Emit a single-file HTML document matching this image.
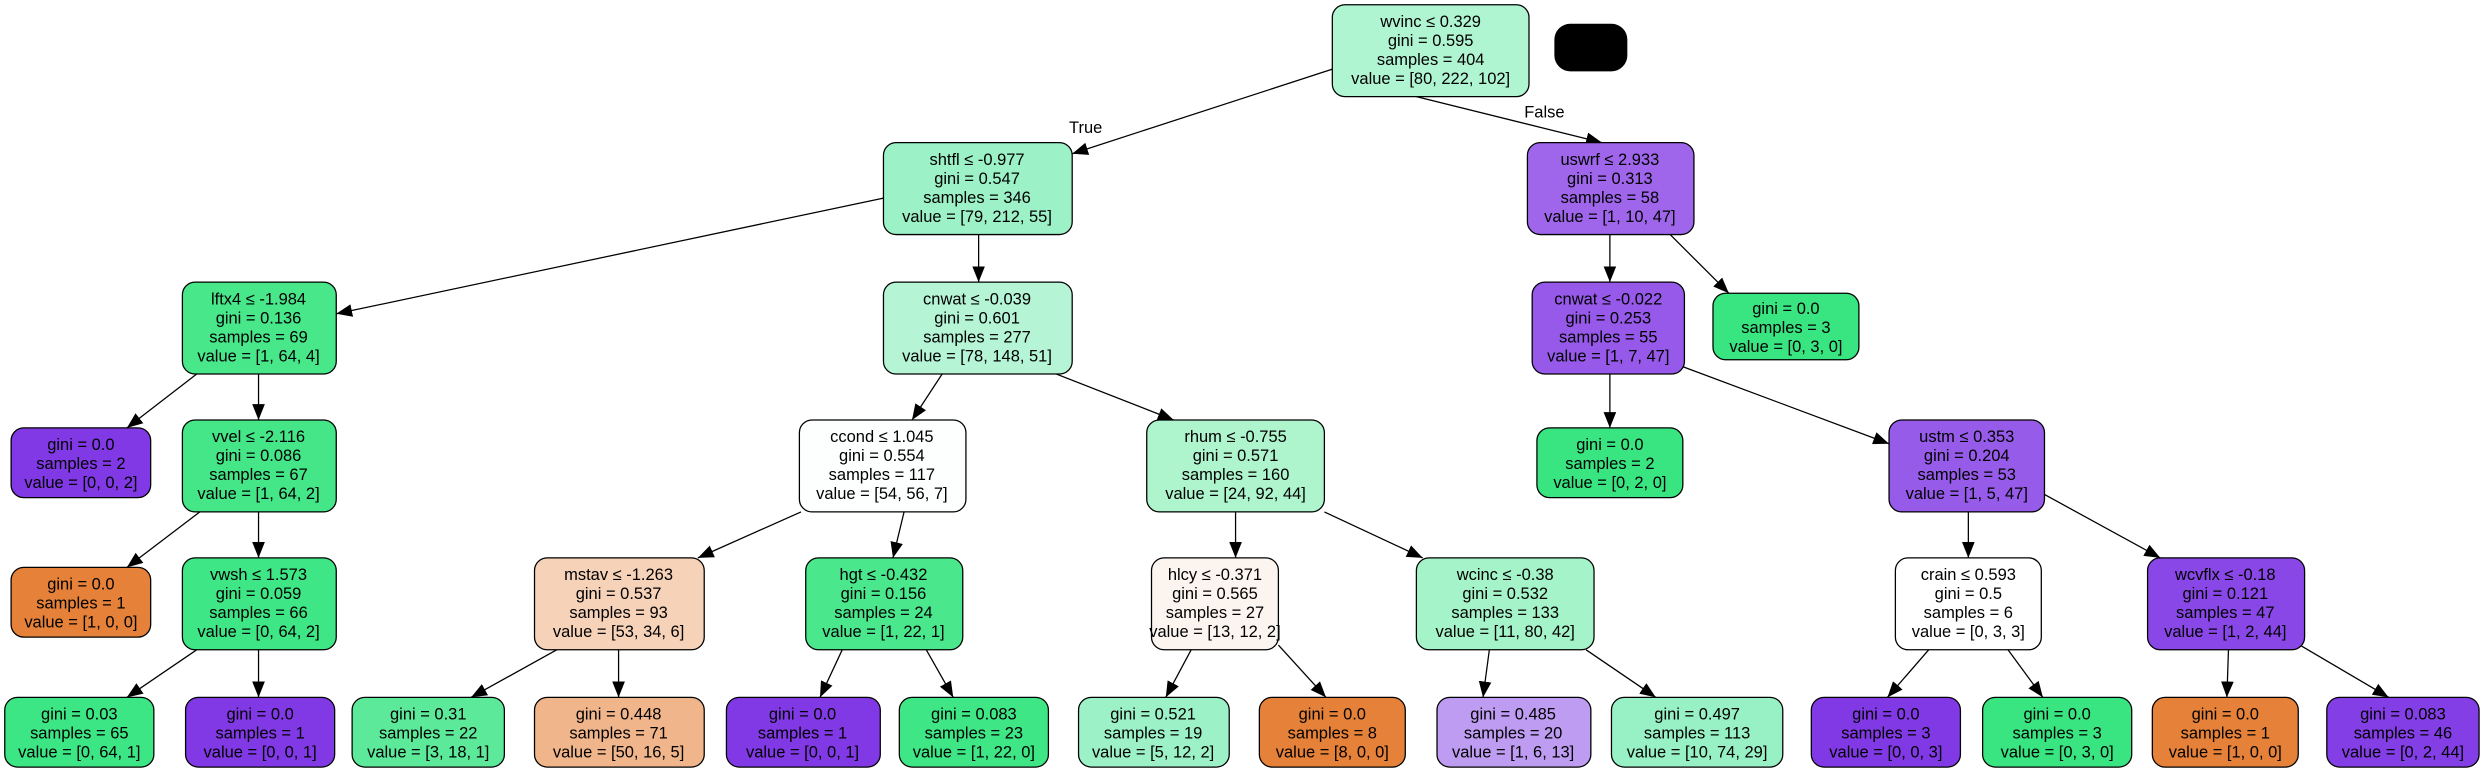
<!DOCTYPE html>
<html><head><meta charset="utf-8"><style>
html,body{margin:0;padding:0;background:#fff;}
svg{display:block;}
text{font-family:"Liberation Sans",Arial,sans-serif;font-size:10.4px;fill:#000;}
</style></head><body>
<svg width="2487" height="775" viewBox="0 0 1568 489" preserveAspectRatio="none" xmlns="http://www.w3.org/2000/svg">
<defs><marker id="a" markerUnits="userSpaceOnUse" markerWidth="11" markerHeight="8" refX="10" refY="4" orient="auto"><path d="M0,0 L10,4 L0,8 Z" fill="#000"/></marker></defs>
<g stroke="#000" stroke-width="0.8" marker-end="url(#a)">
<line x1="842" y1="43" x2="676" y2="97"/>
<line x1="893" y1="61" x2="1010" y2="90"/>
<line x1="557" y1="125" x2="212" y2="198"/>
<line x1="617" y1="148" x2="617" y2="178"/>
<line x1="1015" y1="148" x2="1015" y2="178"/>
<line x1="1053" y1="148" x2="1090" y2="185"/>
<line x1="124" y1="236" x2="80" y2="270"/>
<line x1="163" y1="236" x2="163" y2="265"/>
<line x1="594" y1="236" x2="575" y2="265"/>
<line x1="666" y1="236" x2="740" y2="265"/>
<line x1="1015" y1="236" x2="1015" y2="270"/>
<line x1="1060" y1="231" x2="1191" y2="280"/>
<line x1="126" y1="323" x2="80" y2="358"/>
<line x1="163" y1="323" x2="163" y2="352"/>
<line x1="505" y1="323" x2="440" y2="352"/>
<line x1="570" y1="323" x2="563" y2="352"/>
<line x1="779" y1="323" x2="779" y2="352"/>
<line x1="835" y1="323" x2="897" y2="352"/>
<line x1="1241" y1="323" x2="1241" y2="352"/>
<line x1="1289" y1="312" x2="1362" y2="352"/>
<line x1="124" y1="410" x2="80" y2="440"/>
<line x1="163" y1="410" x2="163" y2="440"/>
<line x1="351" y1="410" x2="297" y2="440"/>
<line x1="390" y1="410" x2="390" y2="440"/>
<line x1="531" y1="410" x2="517" y2="440"/>
<line x1="584" y1="410" x2="601" y2="440"/>
<line x1="751" y1="410" x2="735" y2="440"/>
<line x1="806" y1="407" x2="836" y2="440"/>
<line x1="939" y1="410" x2="935" y2="440"/>
<line x1="1000" y1="410" x2="1044" y2="440"/>
<line x1="1216" y1="410" x2="1190" y2="440"/>
<line x1="1266" y1="410" x2="1288" y2="440"/>
<line x1="1405" y1="410" x2="1404" y2="440"/>
<line x1="1450" y1="407" x2="1506" y2="440"/>
</g>
<text x="674" y="84">True</text>
<text x="961" y="74">False</text>
<rect x="980" y="15" width="46" height="30" rx="10" fill="#000"/>
<g stroke="#000" stroke-width="0.8">
<rect x="840" y="3" width="124" height="58" rx="8" fill="#b0f5d2"/>
<rect x="557" y="90" width="119" height="58" rx="8" fill="#9cf2c6"/>
<rect x="963" y="90" width="105" height="58" rx="8" fill="#9f66eb"/>
<rect x="115" y="178" width="97" height="58" rx="8" fill="#47e78a"/>
<rect x="557" y="178" width="119" height="58" rx="8" fill="#b5f5d6"/>
<rect x="966" y="178" width="96" height="58" rx="8" fill="#9659ea"/>
<rect x="1080" y="185" width="92" height="42" rx="8" fill="#39e581"/>
<rect x="7" y="270" width="88" height="44" rx="8" fill="#8139e5"/>
<rect x="115" y="265" width="97" height="58" rx="8" fill="#44e688"/>
<rect x="504" y="265" width="105" height="58" rx="8" fill="#fdfffe"/>
<rect x="723" y="265" width="112" height="58" rx="8" fill="#aef4cd"/>
<rect x="969" y="270" width="92" height="44" rx="8" fill="#39e581"/>
<rect x="1191" y="265" width="98" height="58" rx="8" fill="#975bea"/>
<rect x="7" y="358" width="88" height="44" rx="8" fill="#e58139"/>
<rect x="115" y="352" width="97" height="58" rx="8" fill="#3fe685"/>
<rect x="337" y="352" width="107" height="58" rx="8" fill="#f6d2b9"/>
<rect x="508" y="352" width="99" height="58" rx="8" fill="#4ae78c"/>
<rect x="726" y="352" width="80" height="58" rx="8" fill="#fcf5ef"/>
<rect x="893" y="352" width="112" height="58" rx="8" fill="#a5f3c8"/>
<rect x="1195" y="352" width="92" height="58" rx="8" fill="#ffffff"/>
<rect x="1354" y="352" width="99" height="58" rx="8" fill="#8a47e7"/>
<rect x="3" y="440" width="94" height="44" rx="8" fill="#3de684"/>
<rect x="117" y="440" width="94" height="44" rx="8" fill="#8139e5"/>
<rect x="222" y="440" width="96" height="44" rx="8" fill="#5de99a"/>
<rect x="337" y="440" width="107" height="44" rx="8" fill="#f0b58b"/>
<rect x="458" y="440" width="97" height="44" rx="8" fill="#8139e5"/>
<rect x="567" y="440" width="94" height="44" rx="8" fill="#3fe685"/>
<rect x="680" y="440" width="95" height="44" rx="8" fill="#9cf2c6"/>
<rect x="794" y="440" width="92" height="44" rx="8" fill="#e58139"/>
<rect x="906" y="440" width="97" height="44" rx="8" fill="#be9cf2"/>
<rect x="1016" y="440" width="108" height="44" rx="8" fill="#97f1c4"/>
<rect x="1142" y="440" width="94" height="44" rx="8" fill="#8139e5"/>
<rect x="1250" y="440" width="94" height="44" rx="8" fill="#39e581"/>
<rect x="1357" y="440" width="92" height="44" rx="8" fill="#e58139"/>
<rect x="1467" y="440" width="96" height="44" rx="8" fill="#843ee6"/>
</g>
<g text-anchor="middle">
<text x="902" y="17">wvinc ≤ 0.329</text><text x="902" y="29">gini = 0.595</text><text x="902" y="41">samples = 404</text><text x="902" y="53">value = [80, 222, 102]</text>
<text x="616" y="104">shtfl ≤ -0.977</text><text x="616" y="116">gini = 0.547</text><text x="616" y="128">samples = 346</text><text x="616" y="140">value = [79, 212, 55]</text>
<text x="1015" y="104">uswrf ≤ 2.933</text><text x="1015" y="116">gini = 0.313</text><text x="1015" y="128">samples = 58</text><text x="1015" y="140">value = [1, 10, 47]</text>
<text x="163" y="192">lftx4 ≤ -1.984</text><text x="163" y="204">gini = 0.136</text><text x="163" y="216">samples = 69</text><text x="163" y="228">value = [1, 64, 4]</text>
<text x="616" y="192">cnwat ≤ -0.039</text><text x="616" y="204">gini = 0.601</text><text x="616" y="216">samples = 277</text><text x="616" y="228">value = [78, 148, 51]</text>
<text x="1014" y="192">cnwat ≤ -0.022</text><text x="1014" y="204">gini = 0.253</text><text x="1014" y="216">samples = 55</text><text x="1014" y="228">value = [1, 7, 47]</text>
<text x="1126" y="198">gini = 0.0</text><text x="1126" y="210">samples = 3</text><text x="1126" y="222">value = [0, 3, 0]</text>
<text x="51" y="284">gini = 0.0</text><text x="51" y="296">samples = 2</text><text x="51" y="308">value = [0, 0, 2]</text>
<text x="163" y="279">vvel ≤ -2.116</text><text x="163" y="291">gini = 0.086</text><text x="163" y="303">samples = 67</text><text x="163" y="315">value = [1, 64, 2]</text>
<text x="556" y="279">ccond ≤ 1.045</text><text x="556" y="291">gini = 0.554</text><text x="556" y="303">samples = 117</text><text x="556" y="315">value = [54, 56, 7]</text>
<text x="779" y="279">rhum ≤ -0.755</text><text x="779" y="291">gini = 0.571</text><text x="779" y="303">samples = 160</text><text x="779" y="315">value = [24, 92, 44]</text>
<text x="1015" y="284">gini = 0.0</text><text x="1015" y="296">samples = 2</text><text x="1015" y="308">value = [0, 2, 0]</text>
<text x="1240" y="279">ustm ≤ 0.353</text><text x="1240" y="291">gini = 0.204</text><text x="1240" y="303">samples = 53</text><text x="1240" y="315">value = [1, 5, 47]</text>
<text x="51" y="372">gini = 0.0</text><text x="51" y="384">samples = 1</text><text x="51" y="396">value = [1, 0, 0]</text>
<text x="163" y="366">vwsh ≤ 1.573</text><text x="163" y="378">gini = 0.059</text><text x="163" y="390">samples = 66</text><text x="163" y="402">value = [0, 64, 2]</text>
<text x="390" y="366">mstav ≤ -1.263</text><text x="390" y="378">gini = 0.537</text><text x="390" y="390">samples = 93</text><text x="390" y="402">value = [53, 34, 6]</text>
<text x="557" y="366">hgt ≤ -0.432</text><text x="557" y="378">gini = 0.156</text><text x="557" y="390">samples = 24</text><text x="557" y="402">value = [1, 22, 1]</text>
<text x="766" y="366">hlcy ≤ -0.371</text><text x="766" y="378">gini = 0.565</text><text x="766" y="390">samples = 27</text><text x="766" y="402">value = [13, 12, 2]</text>
<text x="949" y="366">wcinc ≤ -0.38</text><text x="949" y="378">gini = 0.532</text><text x="949" y="390">samples = 133</text><text x="949" y="402">value = [11, 80, 42]</text>
<text x="1241" y="366">crain ≤ 0.593</text><text x="1241" y="378">gini = 0.5</text><text x="1241" y="390">samples = 6</text><text x="1241" y="402">value = [0, 3, 3]</text>
<text x="1403" y="366">wcvflx ≤ -0.18</text><text x="1403" y="378">gini = 0.121</text><text x="1403" y="390">samples = 47</text><text x="1403" y="402">value = [1, 2, 44]</text>
<text x="50" y="454">gini = 0.03</text><text x="50" y="466">samples = 65</text><text x="50" y="478">value = [0, 64, 1]</text>
<text x="164" y="454">gini = 0.0</text><text x="164" y="466">samples = 1</text><text x="164" y="478">value = [0, 0, 1]</text>
<text x="270" y="454">gini = 0.31</text><text x="270" y="466">samples = 22</text><text x="270" y="478">value = [3, 18, 1]</text>
<text x="390" y="454">gini = 0.448</text><text x="390" y="466">samples = 71</text><text x="390" y="478">value = [50, 16, 5]</text>
<text x="506" y="454">gini = 0.0</text><text x="506" y="466">samples = 1</text><text x="506" y="478">value = [0, 0, 1]</text>
<text x="614" y="454">gini = 0.083</text><text x="614" y="466">samples = 23</text><text x="614" y="478">value = [1, 22, 0]</text>
<text x="727" y="454">gini = 0.521</text><text x="727" y="466">samples = 19</text><text x="727" y="478">value = [5, 12, 2]</text>
<text x="840" y="454">gini = 0.0</text><text x="840" y="466">samples = 8</text><text x="840" y="478">value = [8, 0, 0]</text>
<text x="954" y="454">gini = 0.485</text><text x="954" y="466">samples = 20</text><text x="954" y="478">value = [1, 6, 13]</text>
<text x="1070" y="454">gini = 0.497</text><text x="1070" y="466">samples = 113</text><text x="1070" y="478">value = [10, 74, 29]</text>
<text x="1189" y="454">gini = 0.0</text><text x="1189" y="466">samples = 3</text><text x="1189" y="478">value = [0, 0, 3]</text>
<text x="1297" y="454">gini = 0.0</text><text x="1297" y="466">samples = 3</text><text x="1297" y="478">value = [0, 3, 0]</text>
<text x="1403" y="454">gini = 0.0</text><text x="1403" y="466">samples = 1</text><text x="1403" y="478">value = [1, 0, 0]</text>
<text x="1515" y="454">gini = 0.083</text><text x="1515" y="466">samples = 46</text><text x="1515" y="478">value = [0, 2, 44]</text>
</g>
</svg>
</body></html>
